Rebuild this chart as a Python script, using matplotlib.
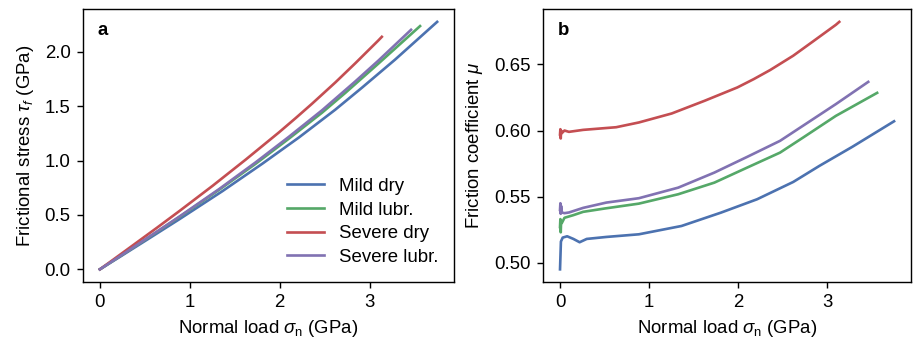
import numpy as np
import matplotlib
matplotlib.use("Agg")
import matplotlib.pyplot as plt

plt.rcParams["font.family"] = ["Liberation Sans", "DejaVu Sans"]
plt.rcParams["font.size"] = 10.5
plt.rcParams["mathtext.fontset"] = "custom"
plt.rcParams["mathtext.rm"] = "Liberation Sans"
plt.rcParams["mathtext.it"] = "Liberation Sans:italic"

labels = ["Mild dry", "Mild lubr.", "Severe dry", "Severe lubr."]
colors = ["#4C72B0", "#55A868", "#C44E52", "#8172B2"]

# normal load (GPa) and friction coefficient for each test
sigma_mild_dry = [0.0, 0.01, 0.03, 0.08, 0.15, 0.22, 0.3, 0.52, 0.885, 1.364, 1.807,
                  2.212, 2.618, 2.913, 3.282, 3.75]
mu_mild_dry = [0.495, 0.516, 0.519, 0.520, 0.518, 0.5155, 0.518, 0.5195, 0.5215, 0.5278,
               0.5379, 0.548, 0.5611, 0.5733, 0.5877, 0.607]

sigma_mild_lubr = [0.0, 0.004, 0.008, 0.012, 0.02, 0.05, 0.1, 0.15, 0.26, 0.5, 0.885,
                   1.327, 1.733, 2.102, 2.47, 2.729, 3.097, 3.56]
mu_mild_lubr = [0.527, 0.533, 0.523, 0.531, 0.530, 0.534, 0.535, 0.536, 0.5385, 0.541,
                0.5447, 0.5518, 0.5606, 0.572, 0.5833, 0.5947, 0.6111, 0.6285]

sigma_severe_dry = [0.0, 0.004, 0.008, 0.012, 0.02, 0.05, 0.1, 0.26, 0.63, 0.885, 1.254,
                    1.623, 1.991, 2.175, 2.36, 2.618, 2.84, 3.097, 3.135]
mu_severe_dry = [0.597, 0.601, 0.594, 0.600, 0.598, 0.600, 0.599, 0.6005, 0.6025, 0.6061,
                 0.6129, 0.6225, 0.6326, 0.6389, 0.6458, 0.6566, 0.6674, 0.680, 0.6822]

sigma_severe_lubr = [0.0, 0.004, 0.008, 0.012, 0.02, 0.05, 0.1, 0.26, 0.52, 0.885, 1.327,
                     1.733, 2.102, 2.47, 2.84, 3.097, 3.46]
mu_severe_lubr = [0.540, 0.545, 0.537, 0.543, 0.538, 0.5375, 0.538, 0.5415, 0.5455, 0.5488,
                  0.5568, 0.5682, 0.5801, 0.5922, 0.6086, 0.620, 0.6368]

sigmas = [sigma_mild_dry, sigma_mild_lubr, sigma_severe_dry, sigma_severe_lubr]
mus = [mu_mild_dry, mu_mild_lubr, mu_severe_dry, mu_severe_lubr]

dpi = 127.4
fig = plt.figure(figsize=(917 / dpi, 339 / dpi), dpi=dpi)
ax_a = fig.add_axes([0.0905, 0.169, 0.4046, 0.803])
ax_b = fig.add_axes([0.5925, 0.169, 0.4007, 0.803])

for s, m, c, lab in zip(sigmas, mus, colors, labels):
    s = np.asarray(s)
    m = np.asarray(m)
    # frictional stress is the friction coefficient times the normal load
    ax_a.plot(s, s * m, color=c, lw=1.5, label=lab)
    ax_b.plot(s, m, color=c, lw=1.5, label=lab)

ax_a.set_xlabel(r"Normal load $\sigma_\mathrm{n}$ (GPa)")
ax_a.set_ylabel(r"Frictional stress $\tau_f$ (GPa)", labelpad=5)
ax_b.set_xlabel(r"Normal load $\sigma_\mathrm{n}$ (GPa)")
ax_b.set_ylabel(r"Friction coefficient $\mu$", labelpad=5)

ax_a.set_xticks([0, 1, 2, 3])
ax_b.set_xticks([0, 1, 2, 3])
ax_a.set_yticks([0.0, 0.5, 1.0, 1.5, 2.0])
ax_b.set_yticks([0.50, 0.55, 0.60, 0.65])

ax_a.legend(loc="lower right", frameon=False, labelspacing=0.36,
            borderaxespad=0.45)

for ax, tag in [(ax_a, "a"), (ax_b, "b")]:
    ax.text(0.04, 0.955, tag, transform=ax.transAxes, va="top", ha="left",
            fontweight="bold")

fig.savefig("out.png", dpi=dpi)
